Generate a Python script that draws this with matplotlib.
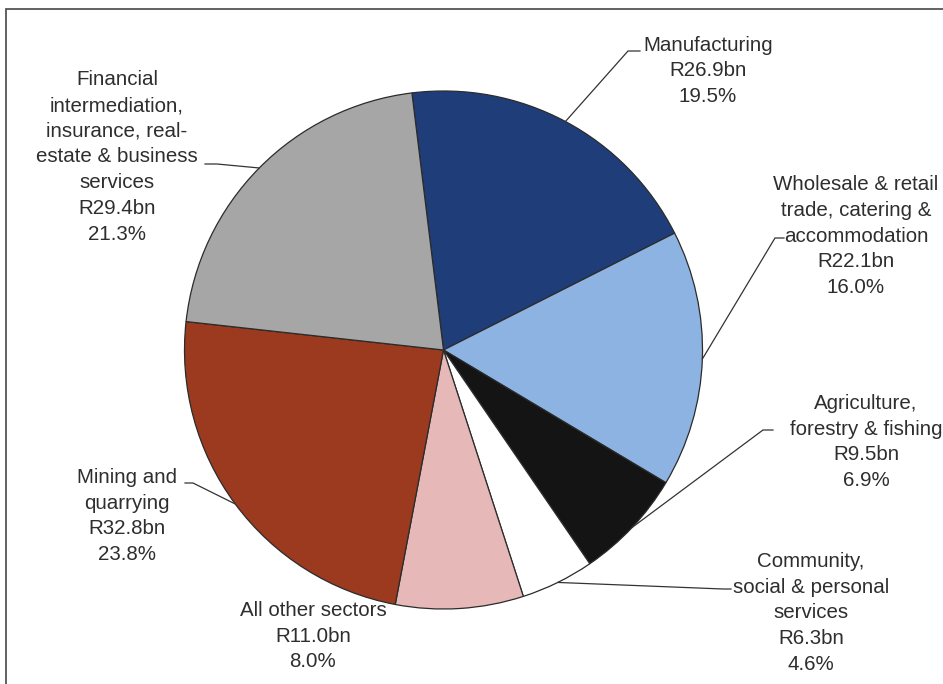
import numpy as np
import matplotlib
matplotlib.use("Agg")
import matplotlib.pyplot as plt
from matplotlib.patches import Rectangle

# ---- data ----
sectors = ["Manufacturing",
           "Wholesale & retail\ntrade, catering &\naccommodation",
           "Agriculture,\nforestry & fishing",
           "Community,\nsocial & personal\nservices",
           "All other sectors",
           "Mining and\nquarrying",
           "Financial\nintermediation,\ninsurance, real-\nestate & business\nservices"]
values_bn = [26.9, 22.1, 9.5, 6.3, 11.0, 32.8, 29.4]
shares_pct = [19.5, 16.0, 6.9, 4.6, 8.0, 23.8, 21.3]
colors = ["#1F3E79", "#8DB3E2", "#141414", "#FFFFFF", "#E6B9B8", "#9B3A1E", "#A6A6A6"]

# ---- layout (pixel coordinates, y measured from top) ----
W, H = 943, 684
CX, CY, R = 443.5, 350, 259
# text centre positions
text_xy = [(708, 71), (856, 236), (866, 442), (811, 613), (313, 636), (127, 516), (117, 157)]
# elbow (start of the short horizontal tick nearest to pie) and tick end
elbows = [((628, 51), (640, 51)),
          ((775, 238), (784, 238)),
          ((763, 430), (773, 430)),
          ((723, 589), (731, 589)),
          None,
          ((193, 483), (185, 483)),
          ((217, 164), (205, 164))]

fig = plt.figure(figsize=(W / 100, H / 100), dpi=100)
ax = fig.add_axes([0, 0, 1, 1])
ax.set_xlim(0, W)
ax.set_ylim(0, H)
ax.axis("off")

def Y(py):
    return H - py

wedges, _ = ax.pie(values_bn, colors=colors, startangle=97, counterclock=False,
                   center=(CX, Y(CY)), radius=R,
                   wedgeprops=dict(edgecolor="#2b2b2b", linewidth=0.9))
ax.set_xlim(0, W)
ax.set_ylim(0, H)
ax.set_aspect("equal")

txtcol = "#2e2e2e"
for i, w in enumerate(wedges):
    label = f"{sectors[i]}\nR{values_bn[i]:.1f}bn\n{shares_pct[i]:.1f}%"
    tx, ty = text_xy[i]
    ax.text(tx, Y(ty), label, ha="center", va="center", multialignment="center",
            fontsize=14.8, family="Liberation Sans", color=txtcol, linespacing=1.45)
    if elbows[i] is not None:
        mid = np.deg2rad((w.theta1 + w.theta2) / 2)
        px = CX + R * np.cos(mid)
        py = Y(CY) + R * np.sin(mid)
        (ex, ey), (ex2, ey2) = elbows[i]
        ax.plot([px, ex, ex2], [py, Y(ey), Y(ey2)], color="#333333", lw=0.9,
                solid_joinstyle="miter")

# outer frame of the figure
fig.patches.append(Rectangle((6 / W, -0.1), 1.2, (H - 9) / H + 0.1,
                             transform=fig.transFigure, fill=False,
                             edgecolor="#555555", lw=1.3))

fig.savefig("out.png", dpi=100, facecolor="white")
